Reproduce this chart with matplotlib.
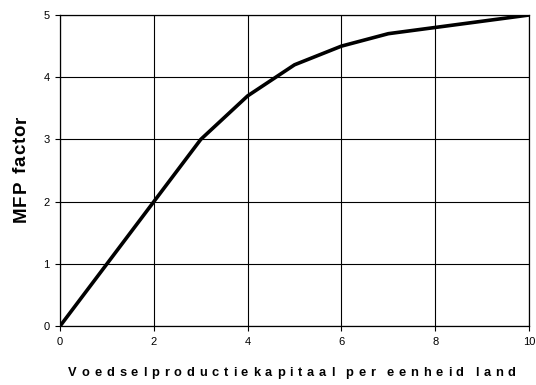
import matplotlib
matplotlib.use("Agg")
import matplotlib.pyplot as plt

# Curve of the MFP factor against food production capital per unit of land
capital = [0, 1, 2, 3, 4, 5, 6, 7, 8, 9, 10]
mfp_factor = [0, 1, 2, 3, 3.7, 4.2, 4.5, 4.7, 4.8, 4.9, 5]

x_ticks = [0, 2, 4, 6, 8, 10]
y_ticks = [0, 1, 2, 3, 4, 5]

x_label = "Voedselproductiekapitaal per eenheid land"
y_label = "MFP factor"

plt.rcParams["font.family"] = ["Liberation Sans", "DejaVu Sans"]

fig = plt.figure(figsize=(5.36, 3.85), dpi=100)
ax = fig.add_axes([0.112, 0.153, 0.875, 0.808])

ax.plot(capital, mfp_factor, color="black", linewidth=2.6, solid_capstyle="butt", zorder=3)

ax.set_xlim(0, 10)
ax.set_ylim(0, 5)
ax.set_xticks(x_ticks)
ax.set_yticks(y_ticks)
ax.tick_params(direction="out", length=3.5, width=0.8, color="black", labelsize=8, pad=4)
ax.grid(True, color="black", linewidth=0.8)
ax.set_axisbelow(True)
for spine in ax.spines.values():
    spine.set_linewidth(0.9)

fig.canvas.draw()
renderer = fig.canvas.get_renderer()
W, H = fig.bbox.width, fig.bbox.height


def char_widths(text, size, space_frac):
    widths = []
    for ch in text:
        t = fig.text(0, 0, ch if ch != " " else "n", fontsize=size, fontweight="bold")
        w = t.get_window_extent(renderer).width
        if ch == " ":
            w *= space_frac
        t.remove()
        widths.append(w)
    return widths


# x label with wide letter spacing: draw each character and advance by its width
spacing = 4.8
widths = char_widths(x_label, 9.3, 0.2)
total = sum(widths) + spacing * (len(x_label) - 1)
x_px = 292 - total / 2
y_fig = 1 - 376 / 385
for ch, w in zip(x_label, widths):
    if ch != " ":
        fig.text(x_px / W, y_fig, ch, fontsize=9.3, fontweight="bold", ha="left", va="baseline")
    x_px += w + spacing

# y label, rotated, heavy and slightly spaced
y_spacing = 1.0
y_widths = char_widths(y_label, 13.5, 0.5)
y_total = sum(y_widths) + y_spacing * (len(y_label) - 1)
y_px = (385 - 169) - y_total / 2
for ch, w in zip(y_label, y_widths):
    if ch != " ":
        fig.text(25.5 / W, y_px / H, ch, fontsize=13.5, fontweight="heavy",
                 rotation=90, ha="left", va="baseline", rotation_mode="anchor")
    y_px += w + y_spacing

fig.savefig("out.png", dpi=100)
